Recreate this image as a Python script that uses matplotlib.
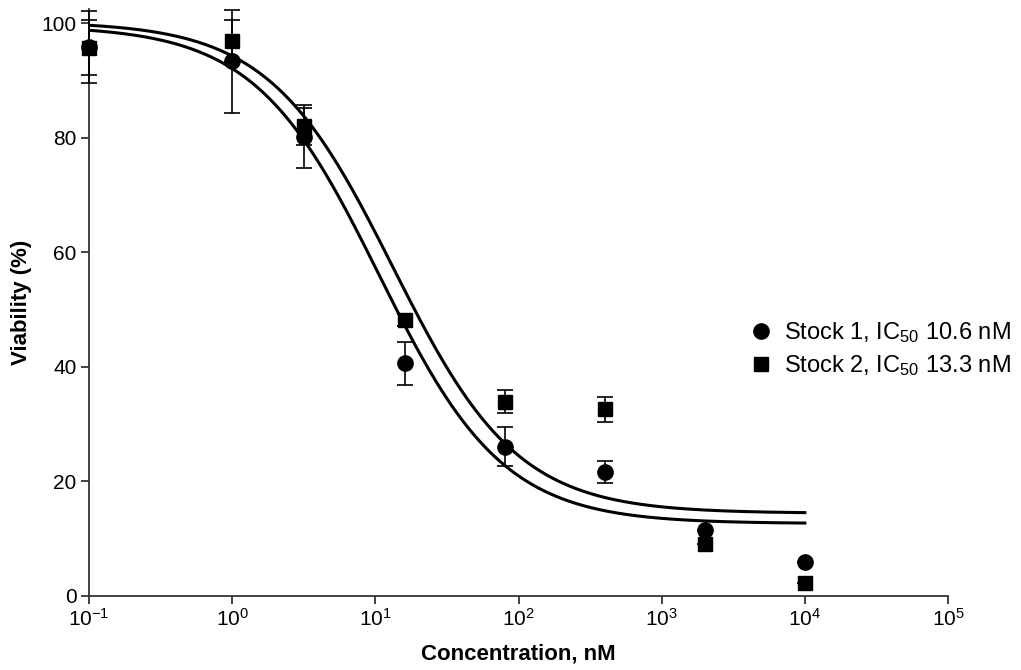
import matplotlib
matplotlib.use("Agg")
import matplotlib.pyplot as plt
from matplotlib.lines import Line2D
import numpy as np

plt.rcParams['font.family'] = ['Liberation Sans', 'DejaVu Sans']
plt.rcParams['mathtext.fontset'] = 'custom'
plt.rcParams['mathtext.rm'] = 'Liberation Sans'
plt.rcParams['mathtext.it'] = 'Liberation Sans:italic'
plt.rcParams['mathtext.bf'] = 'Liberation Sans:bold'

# concentrations (nM)
conc = [0.1, 1, 3.2, 16, 80, 400, 2000, 10000]

# stock 1 (circles)
stock1_mean = [95.8, 93.4, 80.2, 40.6, 26.0, 21.6, 11.5, 5.9]
stock1_err = [6.3, 9.0, 5.5, 3.8, 3.4, 1.9, 0.0, 0.0]

# stock 2 (squares)
stock2_mean = [95.7, 96.9, 82.0, 48.2, 33.9, 32.6, 9.0, 2.3]
stock2_err = [4.8, 3.6, 3.2, 1.0, 2.0, 2.2, 0.0, 0.0]

# four-parameter fits: top, bottom, IC50, hill slope
fit1 = dict(top=99.6, bottom=12.6, ic50=10.6, hill=1.0)
fit2 = dict(top=100.3, bottom=14.4, ic50=13.3, hill=1.0)

labels = ['Stock 1, IC$_{\\mathrm{50}}$ 10.6 nM', 'Stock 2, IC$_{\\mathrm{50}}$ 13.3 nM']
xtick_vals = [1e-1, 1e0, 1e1, 1e2, 1e3, 1e4, 1e5]
xtick_labels = ['10$^{\\mathrm{-1}}$', '10$^{\\mathrm{0}}$', '10$^{\\mathrm{1}}$', '10$^{\\mathrm{2}}$',
                '10$^{\\mathrm{3}}$', '10$^{\\mathrm{4}}$', '10$^{\\mathrm{5}}$']


def logistic(x, top, bottom, ic50, hill):
    return bottom + (top - bottom) / (1 + (x / ic50) ** hill)


fig = plt.figure(figsize=(10.21, 6.7), dpi=100)
ax = fig.add_axes([89 / 1021, 1 - 595.7 / 670, (948 - 89) / 1021, (595.7 - 9) / 670])

xs = np.logspace(-1, 4, 400)
ax.plot(xs, logistic(xs, **fit1), color='black', lw=2.2, zorder=2)
ax.plot(xs, logistic(xs, **fit2), color='black', lw=2.2, zorder=2)

ax.errorbar(conc, stock1_mean, yerr=stock1_err, fmt='o', color='black', ms=11,
            ecolor='black', elinewidth=1.2, capsize=6, capthick=1.2, clip_on=False,
            zorder=3)
ax.errorbar(conc, stock2_mean, yerr=stock2_err, fmt='s', color='black', ms=10.5,
            ecolor='black', elinewidth=1.2, capsize=6, capthick=1.2, clip_on=False,
            zorder=4)

ax.set_xscale('log')
ax.set_xlim(0.1, 1e5)
ax.set_ylim(0, 102.5)
ax.set_yticks([0, 20, 40, 60, 80, 100])
ax.set_xticks(xtick_vals)
ax.set_xticklabels(xtick_labels)
ax.minorticks_off()

for s in ['top', 'right']:
    ax.spines[s].set_visible(False)
for s in ['left', 'bottom']:
    ax.spines[s].set_color('#333333')
    ax.spines[s].set_linewidth(1.3)
ax.tick_params(direction='out', length=6, width=1.3, color='#333333', labelsize=15, pad=3)

ax.set_xlabel('Concentration, nM', fontsize=16, fontweight='bold', labelpad=10)
ax.set_ylabel('Viability (%)', fontsize=16, fontweight='bold', labelpad=7)

handles = [Line2D([], [], marker='o', ls='none', color='black', ms=11),
           Line2D([], [], marker='s', ls='none', color='black', ms=10.5)]
fig.legend(handles, labels, loc='center left', bbox_to_anchor=(740 / 1021, 1 - 349 / 670),
           frameon=False, fontsize=17, handlelength=1.0, handletextpad=0.45,
           labelspacing=0.35, borderaxespad=0)

fig.savefig('out.png', dpi=100)
